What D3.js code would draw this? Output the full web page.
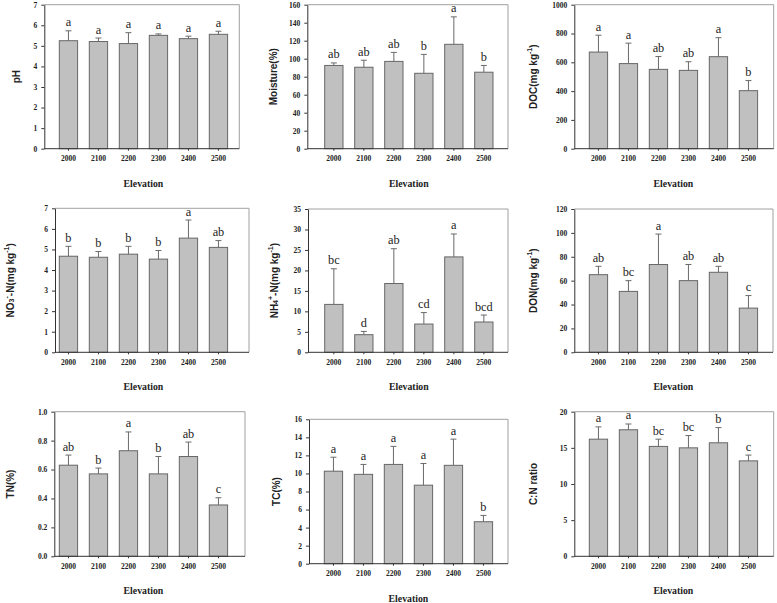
<!DOCTYPE html>
<html>
<head>
<meta charset="utf-8">
<script src="https://cdn.jsdelivr.net/npm/d3@7"></script>
<style>
  html, body { margin: 0; padding: 0; background: #fff; }
  svg { display: block; }
</style>
</head>
<body>
<svg id="chart" width="777" height="603"></svg>
<script>
// ---------------- DATA ----------------
const elevations = ["2000", "2100", "2200", "2300", "2400", "2500"];

const phMean   = [5.25, 5.21, 5.11, 5.51, 5.35, 5.56];
const phErr    = [5.73, 5.38, 5.64, 5.58, 5.47, 5.71];
const phLetters = ["a", "a", "a", "a", "a", "a"];

const moistureMean = [92.5, 90.5, 97, 83.8, 116, 85];
const moistureErr  = [95.3, 98.3, 107, 104.8, 146.5, 92.5];
const moistureLetters = ["ab", "ab", "ab", "b", "a", "b"];

const docMean = [671, 591, 551, 544, 639, 403];
const docErr  = [788, 733, 640, 604, 771, 473];
const docLetters = ["a", "a", "ab", "ab", "a", "b"];

const no3Mean = [4.67, 4.62, 4.77, 4.53, 5.55, 5.10];
const no3Err  = [5.15, 4.90, 5.15, 4.95, 6.43, 5.43];
const no3Letters = ["b", "b", "b", "b", "a", "ab"];

const nh4Mean = [11.7, 4.3, 16.8, 6.9, 23.3, 7.4];
const nh4Err  = [20.4, 5.1, 25.3, 9.7, 28.9, 9.1];
const nh4Letters = ["bc", "d", "ab", "cd", "a", "bcd"];

const donMean = [65, 51, 73.5, 60, 67, 37];
const donErr  = [72, 60, 99, 73.5, 72, 47.5];
const donLetters = ["ab", "bc", "a", "ab", "ab", "c"];

const tnMean = [0.63, 0.57, 0.73, 0.57, 0.69, 0.355];
const tnErr  = [0.70, 0.61, 0.86, 0.69, 0.79, 0.405];
const tnLetters = ["ab", "b", "a", "b", "ab", "c"];

const tcMean = [10.25, 9.9, 11.0, 8.7, 10.9, 4.65];
const tcErr  = [11.8, 11.0, 13.0, 11.1, 13.8, 5.35];
const tcLetters = ["a", "a", "a", "a", "a", "b"];

const cnMean = [16.2, 17.5, 15.2, 15.0, 15.7, 13.2];
const cnErr  = [17.9, 18.3, 16.2, 16.7, 17.8, 14.0];
const cnLetters = ["a", "a", "bc", "bc", "b", "c"];

const phTicks = [0, 1, 2, 3, 4, 5, 6, 7];
const moistureTicks = [0, 20, 40, 60, 80, 100, 120, 140, 160];
const docTicks = [0, 200, 400, 600, 800, 1000];
const no3Ticks = [0, 1, 2, 3, 4, 5, 6, 7];
const nh4Ticks = [0, 5, 10, 15, 20, 25, 30, 35];
const donTicks = [0, 20, 40, 60, 80, 100, 120];
const tnTicks = [0, 0.2, 0.4, 0.6, 0.8, 1.0];
const tcTicks = [0, 2, 4, 6, 8, 10, 12, 14, 16];
const cnTicks = [0, 5, 10, 15, 20];

const xTitle = "Elevation";

// ---------------- PANELS (layout) ----------------
// title: array of [text, mode] where mode: "n" normal, "sub", "sup"
const panels = [
  { mean: phMean, err: phErr, letters: phLetters, ticks: phTicks, fmt: d3.format("d"),
    title: [["pH","n"]], x0: 44.3, x1: 239.3, top: 4.7, bottom: 148.7, barStart: 59.3, tx: 16 },
  { mean: moistureMean, err: moistureErr, letters: moistureLetters, ticks: moistureTicks, fmt: d3.format("d"),
    title: [["Moisture(%)","n"]], x0: 307.3, x1: 508, top: 4.7, bottom: 148.7, barStart: 324.7, tx: 273 },
  { mean: docMean, err: docErr, letters: docLetters, ticks: docTicks, fmt: d3.format("d"),
    title: [["DOC(mg kg","n"],["-1","sup"],[")","n"]], x0: 574.3, x1: 773.7, top: 4.7, bottom: 148.7, barStart: 589.3, tx: 533 },
  { mean: no3Mean, err: no3Err, letters: no3Letters, ticks: no3Ticks, fmt: d3.format("d"),
    title: [["NO","n"],["3","sub"],["-","sup"],["-N(mg kg","n"],["-1","sup"],[")","n"]], x0: 55, x1: 249, top: 208.3, bottom: 352.3, barStart: 59.3, tx: 9.5 },
  { mean: nh4Mean, err: nh4Err, letters: nh4Letters, ticks: nh4Ticks, fmt: d3.format("d"),
    title: [["NH","n"],["4","sub"],["+","sup"],["-N(mg kg","n"],["-1","sup"],[")","n"]], x0: 308, x1: 508, top: 209, bottom: 352.3, barStart: 324.7, tx: 274 },
  { mean: donMean, err: donErr, letters: donLetters, ticks: donTicks, fmt: d3.format("d"),
    title: [["DON(mg kg","n"],["-1","sup"],[")","n"]], x0: 574.3, x1: 773, top: 209, bottom: 352.3, barStart: 589.3, tx: 533 },
  { mean: tnMean, err: tnErr, letters: tnLetters, ticks: tnTicks, fmt: d3.format(".1f"),
    title: [["TN(%)","n"]], x0: 54.3, x1: 245, top: 411.7, bottom: 556.3, barStart: 59.3, tx: 10 },
  { mean: tcMean, err: tcErr, letters: tcLetters, ticks: tcTicks, fmt: d3.format("d"),
    title: [["TC(%)","n"]], x0: 309, x1: 508, top: 419.3, bottom: 563.7, barStart: 324.3, tx: 276 },
  { mean: cnMean, err: cnErr, letters: cnLetters, ticks: cnTicks, fmt: d3.format("d"),
    title: [["C:N ratio","n"]], x0: 574.3, x1: 773.7, top: 411.7, bottom: 556.3, barStart: 589.3, tx: 533 }
];

const svg = d3.select("#chart");
const serif = "'Liberation Serif', 'Times New Roman', serif";
const sans = "'Liberation Sans', Arial, sans-serif";
const barStep = 30, barW = 18.3;
const padInner = 1 - barW / barStep;

panels.forEach(p => {
  const g = svg.append("g");
  const bandWidth = barStep * (elevations.length - padInner);
  const x = d3.scaleBand().domain(elevations)
    .range([p.barStart, p.barStart + bandWidth])
    .paddingInner(padInner).paddingOuter(0);
  const y = d3.scaleLinear().domain([p.ticks[0], p.ticks[p.ticks.length - 1]])
    .range([p.bottom, p.top]);

  // frame: top & right lighter
  g.append("line").attr("x1", p.x0).attr("x2", p.x1).attr("y1", p.top).attr("y2", p.top)
    .attr("stroke", "#a0a0a0").attr("stroke-width", 1);
  g.append("line").attr("x1", p.x1).attr("x2", p.x1).attr("y1", p.top).attr("y2", p.bottom)
    .attr("stroke", "#a0a0a0").attr("stroke-width", 1);

  // bars
  g.selectAll("rect.bar").data(p.mean).enter().append("rect")
    .attr("x", (d, i) => x(elevations[i]))
    .attr("y", d => y(d))
    .attr("width", x.bandwidth())
    .attr("height", d => y(0) - y(d))
    .attr("fill", "#c0c0c0")
    .attr("stroke", "#666")
    .attr("stroke-width", 1);

  // error bars (upper only)
  const cap = 3;
  p.err.forEach((e, i) => {
    const cx = x(elevations[i]) + x.bandwidth() / 2;
    g.append("line").attr("x1", cx).attr("x2", cx)
      .attr("y1", y(p.mean[i])).attr("y2", y(e))
      .attr("stroke", "#6a6a6a").attr("stroke-width", 1);
    g.append("line").attr("x1", cx - cap).attr("x2", cx + cap)
      .attr("y1", y(e)).attr("y2", y(e))
      .attr("stroke", "#6a6a6a").attr("stroke-width", 1);
    // significance letters
    g.append("text").attr("x", cx).attr("y", y(e) - 4.5)
      .attr("text-anchor", "middle")
      .attr("font-family", serif).attr("font-size", 12.3)
      .attr("fill", "#222")
      .text(p.letters[i]);
  });

  // y axis
  const yAxis = d3.axisLeft(y).tickValues(p.ticks).tickFormat(p.fmt).tickSizeInner(3).tickSizeOuter(0).tickPadding(4);
  const ya = g.append("g").attr("transform", `translate(${p.x0},0)`).call(yAxis);
  ya.select(".domain").attr("stroke", "#333");
  ya.selectAll(".tick line").attr("stroke", "#333");
  ya.selectAll(".tick text").attr("font-family", serif).attr("font-weight", "bold")
    .attr("font-size", 7.5).attr("fill", "#222");

  // x axis
  const xAxis = d3.axisBottom(x).tickSizeInner(2).tickSizeOuter(0).tickPadding(5);
  const xa = g.append("g").attr("transform", `translate(0,${p.bottom})`).call(xAxis);
  xa.select(".domain").remove();
  g.append("line").attr("x1", p.x0).attr("x2", p.x1).attr("y1", p.bottom).attr("y2", p.bottom)
    .attr("stroke", "#333").attr("stroke-width", 1);
  xa.selectAll(".tick line").attr("stroke", "#333");
  xa.selectAll(".tick text").attr("font-family", serif).attr("font-weight", "bold")
    .attr("font-size", 7.5).attr("fill", "#222");

  // x title
  const mid = (x.range()[0] + x.range()[1]) / 2;
  g.append("text").attr("x", mid).attr("y", p.bottom + 38)
    .attr("text-anchor", "middle")
    .attr("font-family", serif).attr("font-weight", "bold").attr("font-size", 9.8)
    .attr("fill", "#222").text(xTitle);

  // y title
  const ty = (p.top + p.bottom) / 2;
  const t = g.append("text")
    .attr("transform", `translate(${p.tx},${ty}) rotate(-90)`)
    .attr("text-anchor", "middle").attr("dominant-baseline", "central")
    .attr("font-family", sans).attr("font-weight", "bold").attr("font-size", 10)
    .attr("fill", "#222");
  p.title.forEach(([s, mode]) => {
    const ts = t.append("tspan").text(s);
    if (mode === "sub") ts.attr("font-size", 7).attr("baseline-shift", "-25%");
    if (mode === "sup") ts.attr("font-size", 7).attr("baseline-shift", "45%");
  });
});
</script>
</body>
</html>
